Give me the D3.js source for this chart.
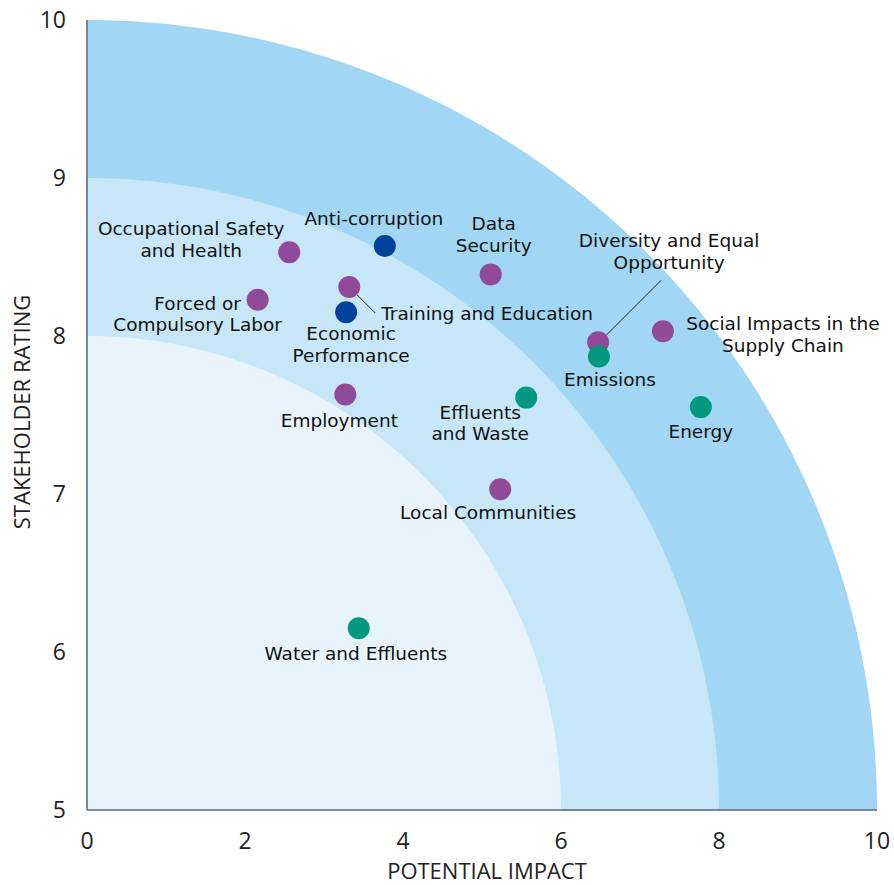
<!DOCTYPE html>
<html>
<head>
<meta charset="utf-8">
<script src="https://cdn.jsdelivr.net/npm/d3@7.9.0/dist/d3.min.js"></script>
<style>
  body { margin: 0; background: #fff; }
  svg { display: block; }
  .tick-label { font-family: "Open Sans", sans-serif; font-size: 23px; fill: #222; }
  .axis-title { font-family: "Open Sans", sans-serif; font-size: 22px; fill: #222; }
  .pt-label { font-family: "DejaVu Sans", sans-serif; font-size: 18.5px; fill: #111; }
</style>
</head>
<body>
<svg id="chart" width="894" height="885"></svg>
<script>
// topics and ratings
const topics = [
  'Occupational Safety and Health', 'Anti-corruption', 'Data Security',
  'Forced or Compulsory Labor', 'Training and Education', 'Economic Performance',
  'Diversity and Equal Opportunity', 'Emissions', 'Social Impacts in the Supply Chain',
  'Effluents and Waste', 'Employment', 'Energy', 'Local Communities', 'Water and Effluents'
];
const impact = [2.56, 3.77, 5.11, 2.16, 3.32, 3.28, 6.47, 6.48, 7.29, 5.56, 3.27, 7.77, 5.23, 3.44];
const rating = [8.53, 8.57, 8.39, 8.23, 8.31, 8.15, 7.96, 7.87, 8.03, 7.61, 7.63, 7.55, 7.03, 6.15];
const group  = ['social', 'economic', 'social', 'social', 'social', 'economic',
                'social', 'environment', 'social', 'environment', 'social', 'environment', 'social', 'environment'];
// label lines for each topic
const labelLines = [
  ['Occupational Safety', 'and Health'], ['Anti-corruption'], ['Data', 'Security'],
  ['Forced or', 'Compulsory Labor'], ['Training and Education'], ['Economic', 'Performance'],
  ['Diversity and Equal', 'Opportunity'], ['Emissions'], ['Social Impacts in the', 'Supply Chain'],
  ['Effluents', 'and Waste'], ['Employment'], ['Energy'], ['Local Communities'], ['Water and Effluents']
];
const xTicks = [0, 2, 4, 6, 8, 10];
const yTicks = [5, 6, 7, 8, 9, 10];
// materiality bands: outer edge on each axis
const bandX = [10, 8, 6];
const bandY = [10, 9, 8];

const colors = { social: '#904a97', economic: '#00429a', environment: '#00997f' };
const bandColors = ['#a1d7f4', '#c7e7f9', '#e7f4fd'];

const svg = d3.select('#chart');
const x = d3.scaleLinear().domain([0, 10]).range([87, 877]);
const y = d3.scaleLinear().domain([5, 10]).range([810, 20]);

// quarter ellipse bands
bandX.forEach((bx, i) => {
  const by = bandY[i];
  const angles = d3.range(0, 91).map(a => a * Math.PI / 180);
  const pts = angles.map(t => [x(bx * Math.cos(t)), y(5 + (by - 5) * Math.sin(t))]);
  pts.push([x(0), y(5)]);
  svg.append('path')
    .attr('d', d3.line()(pts) + 'Z')
    .attr('fill', bandColors[i]);
});

// axes lines
svg.append('line').attr('x1', x(0)).attr('x2', x(0)).attr('y1', y(10)).attr('y2', y(5))
  .attr('stroke', '#5a6670').attr('stroke-width', 1.5);
svg.append('line').attr('x1', x(0)).attr('x2', x(10)).attr('y1', y(5)).attr('y2', y(5))
  .attr('stroke', '#5a6670').attr('stroke-width', 1.5);

// tick labels
svg.selectAll('.xt').data(xTicks).join('text')
  .attr('class', 'tick-label')
  .attr('x', d => x(d)).attr('y', 849)
  .attr('text-anchor', 'middle')
  .text(d => d);
svg.selectAll('.yt').data(yTicks).join('text')
  .attr('class', 'tick-label')
  .attr('x', 66).attr('y', d => y(d) + 8)
  .attr('text-anchor', 'end')
  .text(d => d);

svg.append('text').attr('class', 'axis-title')
  .attr('x', 487).attr('y', 879).attr('text-anchor', 'middle')
  .text('POTENTIAL IMPACT');
svg.append('text').attr('class', 'axis-title')
  .attr('transform', 'translate(30,412) rotate(-90)').attr('text-anchor', 'middle')
  .text('STAKEHOLDER RATING');

// leader lines (Training and Education, Diversity)
const leaders = [
  { i: 4, dx1: 8, dy1: 8, dx2: 26, dy2: 26 },
  { i: 6, dx1: 8, dy1: -7, dx2: 63, dy2: -62 }
];
leaders.forEach(l => {
  svg.append('line')
    .attr('x1', x(impact[l.i]) + l.dx1).attr('y1', y(rating[l.i]) + l.dy1)
    .attr('x2', x(impact[l.i]) + l.dx2).attr('y2', y(rating[l.i]) + l.dy2)
    .attr('stroke', '#222').attr('stroke-width', 1);
});

// points
svg.selectAll('.pt').data(topics).join('circle')
  .attr('cx', (d, i) => x(impact[i]))
  .attr('cy', (d, i) => y(rating[i]))
  .attr('r', 11)
  .attr('fill', (d, i) => colors[group[i]]);

// label offsets relative to the point: [dx, dy of first baseline, anchor]
const labelPos = [
  [-98, -17, 'middle'], [-11, -21, 'middle'], [3, -44, 'middle'],
  [-60, 10, 'middle'], [32, 33, 'start'], [5, 28, 'middle'],
  [71, -95, 'middle'], [11, 29, 'middle'], [120, -1, 'middle'],
  [-46, 21, 'middle'], [-6, 33, 'middle'], [0, 31, 'middle'], [-12, 30, 'middle'], [-3, 32, 'middle']
];
topics.forEach((t, i) => {
  const [dx, dy, anchor] = labelPos[i];
  const txt = svg.append('text').attr('class', 'pt-label')
    .attr('x', x(impact[i]) + dx).attr('y', y(rating[i]) + dy)
    .attr('text-anchor', anchor);
  labelLines[i].forEach((line, k) => {
    txt.append('tspan').attr('x', x(impact[i]) + dx).attr('dy', k === 0 ? 0 : 21.5).text(line);
  });
});
</script>
</body>
</html>
